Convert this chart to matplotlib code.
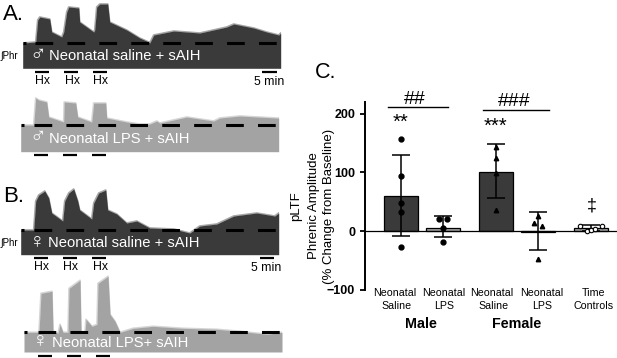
import matplotlib
matplotlib.use("Agg")
import matplotlib.pyplot as plt

plt.rcParams['font.family'] = ['Liberation Sans', 'DejaVu Sans']

W, H = 617, 358
DARK = '#3a3a3a'
LIGHT = '#a3a3a3'

# traces: time (px-like units from the trace start), amplitude above the dashed baseline
time_a1 = [0,13,15,17,27,29,39,41,44,46,56,57,71,72,74,77,85,87,104,117,126,127,131,151,177,204,211,231,244,256,258]
amp_a1 = [0,1,23,26,24,11,6,11,31,36,35,21,11,13,36,39,39,21,13,5,1,0,8,12,10,16,19,15,11,8,10]
time_a2 = [0,13,15,18,26,28,43,43.5,55,57,71,73,85,86,106,119,129,136,139,166,193,199,219,256,258]
amp_a2 = [0,0,27,25,23,8,3,23,22,8,3,22,22,7,3,1,1,4,2,8,4,7,9,7,7]
time_b1 = [0,13,15,18,24,28,31,42,44,48,53,57,59,71,73,78,85,87,96,106,116,129,153,169,179,196,213,236,254,258]
amp_b1 = [0,0,29,35,39,32,17,9,29,37,41,29,20,11,27,37,40,20,16,7,9,2,1,-3,4,6,14,17,14,17]
time_b2 = [0,15,17,28,29,34,36,39,44,45,56,57,61,62,68,73,74,84,86,91,96,109,129,159,193,216,243,258]
amp_b2 = [0,0,39,41,1,-1,8,0,0,44,52,1,0,13,6,8,49,56,18,11,0,4,6,4,3,1,-2,0]

hx_a1 = [(12.3,26.3),(41.3,55.3),(70.3,84.3)]
hx_a2 = [(13,27.3),(42,56.3),(71,85.3)]
hx_b1 = [(13,27.3),(42,56.3),(71,85.3)]
hx_b2 = [(14,28.3),(42.7,57),(71.7,86)]
scale_a1 = (239.7,254)
scale_b1 = (239.3,253.3)

# panel C
groups = ['Neonatal\nSaline','Neonatal\nLPS','Neonatal\nSaline','Neonatal\nLPS','Time\nControls']
bar_x = [0,1,2.25,3.25,4.5]
means = [60,6,101,-1,5]
err_top = [130,25,149,33,10]
err_bot = [-8,-11,56,-33,0]
bar_colors = [DARK,LIGHT,DARK,LIGHT,LIGHT]

male_sal_y = [157,93,48,33,-27]
male_lps_dx = [-0.1,0.1,0,0]
male_lps_y = [20,20,6,-18]
fem_sal_y = [143,124,99,36]
fem_lps_dx = [-0.09,0.09,0,0]
fem_lps_y = [13,8.5,26,-48]
ctrl_dx = [-0.27,-0.1,0,0.09,0.25]
ctrl_y = [8,0,2,3,9]

fig = plt.figure(figsize=(W/100, H/100), dpi=100)

def px(x, y, s, **kw):
    fig.text(x/W, 1-y/H, s, **kw)

def trace(x0, base, depth, t, a, color, hx, bar_off, scale=None):
    top = 60
    ax = fig.add_axes([x0/W, 1-(base+depth)/H, 258/W, (depth+top)/H])
    ax.set_xlim(0, 258)
    ax.set_ylim(-depth, top)
    ax.axis('off')
    ax.fill_between(t, a, -depth, color=color, lw=0)
    # fuzzy edge of the rectified signal
    ax.plot(t, a, color=color, lw=1.2, alpha=0.45, solid_joinstyle='round')
    ax.plot([0, 3], [0, 0], color='k', lw=2.2, solid_capstyle='butt')
    ax.plot([hx[0][0], 258], [0, 0], color='k', lw=2.2, linestyle=(0, (5.8, 4.65)))
    bars = list(hx) + ([scale] if scale else [])
    for b in bars:
        ax.plot(b, [-bar_off, -bar_off], color='k', lw=1.6, clip_on=False, solid_capstyle='butt')

trace(22.7, 43, 25.3, time_a1, amp_a1, DARK, hx_a1, 29, scale_a1)
trace(20.7, 125, 26.7, time_a2, amp_a2, LIGHT, hx_a2, 30)
trace(20.7, 230, 24.7, time_b1, amp_b1, DARK, hx_b1, 28, scale_b1)
trace(24, 332.3, 19.7, time_b2, amp_b2, LIGHT, hx_b2, 23.7)

txt = dict(color='white', fontsize=10.6, va='center', ha='left')
sym = dict(color='white', fontsize=16, va='center', ha='center')
px(38, 55, '\u2642', **sym)
px(49, 56, 'Neonatal saline + sAIH', **txt)
px(38, 138, '\u2642', **sym)
px(49, 139, 'Neonatal LPS + sAIH', **txt)
px(37, 242, '\u2640', **sym)
px(48, 243, 'Neonatal saline + sAIH', **txt)
px(40, 341, '\u2640', **sym)
px(52, 343, 'Neonatal LPS+ sAIH', **txt)

for x, y in [(43,81),(72,81),(101,81),(42,266.5),(71,266.5),(100,266.5)]:
    px(x, y, 'Hx', fontsize=8.8, ha='center', va='center')
px(269, 82, '5 min', fontsize=8.8, ha='center', va='center')
px(266, 268, '5 min', fontsize=8.8, ha='center', va='center')
px(0, 56, '\u222bPhr', fontsize=7, ha='left', va='center')
px(0, 243, '\u222bPhr', fontsize=7, ha='left', va='center')

px(3, 15, 'A.', fontsize=16, va='center')
px(3, 197, 'B.', fontsize=16, va='center')
px(315, 73, 'C.', fontsize=15.5, va='center')

# bar panel
ax = fig.add_axes([365/W, 1-289.7/H, 252/W, (289.7-102)/H])
ax.set_xlim(-0.844, 5.113)
ax.set_ylim(-100, 220)
ax.bar(bar_x, means, width=0.8, color=bar_colors, edgecolor='k', lw=0.9, zorder=2)
for x, m, t, b in zip(bar_x, means, err_top, err_bot):
    ax.errorbar(x, m, yerr=[[m-b], [t-m]], color='k', lw=1.1, capsize=6.2, capthick=1.1, zorder=3)
ax.axhline(0, color='k', lw=0.9, zorder=2.5)

ms = dict(color='k', ls='none', zorder=4, clip_on=False)
ax.plot([bar_x[0]]*len(male_sal_y), male_sal_y, 'o', ms=3.5, **ms)
ax.plot([bar_x[1]+d for d in male_lps_dx], male_lps_y, 'o', ms=3.5, **ms)
ax.plot([bar_x[2]]*len(fem_sal_y), fem_sal_y, '^', ms=3.2, **ms)
ax.plot([bar_x[3]+d for d in fem_lps_dx], fem_lps_y, '^', ms=3.2, **ms)
ax.plot([bar_x[4]+d for d in ctrl_dx], ctrl_y, 'o', ms=3.2, mfc='white', mec='k', mew=0.8, ls='none', zorder=4)

ax.plot([-0.3, 1.12], [212, 212], color='k', lw=1.0)
ax.plot([1.95, 3.5], [206, 206], color='k', lw=1.0)

ax.set_yticks([-100, 0, 100, 200])
ax.set_xticks([])
ax.tick_params(axis='y', length=3.6, width=1.3, labelsize=9)
for l in ax.get_yticklabels():
    l.set_fontweight('bold')
ax.patch.set_alpha(0)
for s in ['top', 'right', 'bottom']:
    ax.spines[s].set_visible(False)
ax.spines['left'].set_linewidth(1.4)

px(415, 99.5, '##', fontsize=14, ha='center', va='center')
px(514, 102, '###', fontsize=14, ha='center', va='center')
px(400.7, 122, '**', fontsize=14.5, ha='center', va='center')
px(495, 126, '***', fontsize=14.5, ha='center', va='center')
px(592, 206, '\u2021', fontsize=13, ha='center', va='center')

for x, label in zip([397, 444, 494, 542, 594], groups):
    l1, l2 = label.split('\n')
    px(x - (2 if l1 == 'Neonatal' and x in (397, 494) else 0), 292.7, l1, fontsize=7.7, ha='center', va='center')
    px(x, 306, l2, fontsize=7.7, ha='center', va='center')
px(421, 324, 'Male', fontsize=10.3, fontweight='bold', ha='center', va='center')
px(516.7, 324, 'Female', fontsize=10.3, fontweight='bold', ha='center', va='center')

px(296, 206, 'pLTF', fontsize=9.5, rotation=90, ha='center', va='center')
px(313.5, 206, 'Phrenic Amplitude', fontsize=9.5, rotation=90, ha='center', va='center')
px(329, 206, '(% Change from Baseline)', fontsize=9.5, rotation=90, ha='center', va='center')

fig.savefig('out.png', dpi=100)
